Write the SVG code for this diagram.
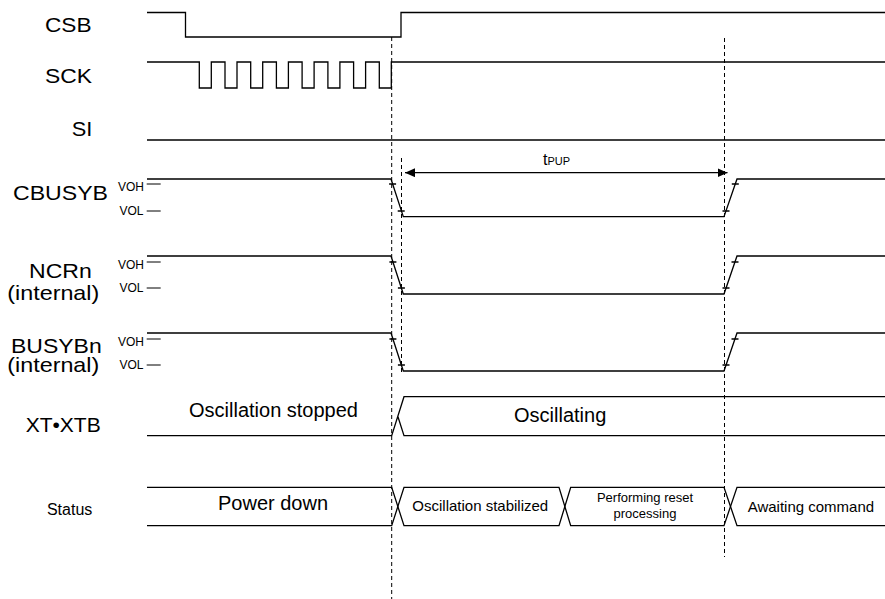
<svg xmlns="http://www.w3.org/2000/svg" width="885" height="599" viewBox="0 0 885 599">
<style>
.w{fill:none;stroke:#000;stroke-width:1.3}
.t{fill:none;stroke:#000;stroke-width:1}
.d{fill:none;stroke:#000;stroke-width:1;stroke-dasharray:4 3}
text{font-family:"Liberation Sans",Arial,"Noto Sans CJK JP",sans-serif;fill:#000}
.lb{font-size:21px}
.lv{font-size:12px;text-anchor:end}
.big{font-size:20px}
.md{font-size:15px}
.sm{font-size:13px;text-anchor:middle}
</style>
<defs>
<marker id="ah" viewBox="0 0 10 9" refX="10" refY="4.5" markerWidth="10" markerHeight="9" markerUnits="userSpaceOnUse" orient="auto-start-reverse"><path d="M0,0 L10,4.5 L0,9 z" fill="#000"/></marker>
</defs>
<rect width="885" height="599" fill="#fff"/>

<g id="csb">
<text class="lb" x="45" y="32" textLength="46.5" lengthAdjust="spacingAndGlyphs">CSB</text>
<path class="w" d="M147,12.5 H185.5 V37 H401 V12.5 H885"/>
</g>

<g id="sck">
<text class="lb" x="45" y="83" textLength="47" lengthAdjust="spacingAndGlyphs">SCK</text>
<path class="w" d="M147,62 H199.3 V88 H211.3 V62 H225 V88 H237 V62 H250.7 V88 H262.7 V62 H276.4 V88 H288.4 V62 H302.1 V88 H314.1 V62 H327.9 V88 H339.9 V62 H353.6 V88 H365.6 V62 H379.3 V88 H391.3 V62 H885"/>
</g>

<g id="si">
<text class="lb" x="71.7" y="135.5" textLength="20.6" lengthAdjust="spacingAndGlyphs">SI</text>
<path class="w" d="M147,140 H885"/>
</g>

<g id="cbusyb">
<text class="lb" x="13" y="200" textLength="95" lengthAdjust="spacingAndGlyphs">CBUSYB</text>
<text class="lv" x="144" y="190.5">VOH</text>
<text class="lv" x="143.5" y="215">VOL</text>
<path class="t" d="M146.7,184 H160.7 M146.7,211 H160.7"/>
<path class="w" d="M147,179 H391 L403.3,216.7 H724 L737,179 H885"/>
<path class="w" d="M389.1,184 h7 M397.7,211 h7 M722.5,211 h7 M731.8,184 h7"/>
</g>

<g id="ncrn">
<text class="lb" x="29" y="277.5" textLength="62.7" lengthAdjust="spacingAndGlyphs">NCRn</text>
<text class="lb" x="7.3" y="300" textLength="92" lengthAdjust="spacingAndGlyphs">(internal)</text>
<text class="lv" x="144" y="268.5">VOH</text>
<text class="lv" x="143.5" y="292">VOL</text>
<path class="t" d="M146.7,262 H160.7 M146.7,288 H160.7"/>
<path class="w" d="M147,256 H391 L403.3,294 H724 L737,256 H885"/>
<path class="w" d="M389.4,262 h7 M397.9,288 h7 M722.5,288 h7 M731.5,262 h7"/>
</g>

<g id="busybn">
<text class="lb" x="11" y="352.5" textLength="90.7" lengthAdjust="spacingAndGlyphs">BUSYBn</text>
<text class="lb" x="7.3" y="372" textLength="92" lengthAdjust="spacingAndGlyphs">(internal)</text>
<text class="lv" x="144" y="345.5">VOH</text>
<text class="lv" x="143.5" y="369">VOL</text>
<path class="t" d="M146.7,339 H160.7 M146.7,365 H160.7"/>
<path class="w" d="M147,333 H391 L403.3,371 H724 L737,333 H885"/>
<path class="w" d="M389.4,339 h7 M397.9,365 h7 M722.5,365 h7 M731.5,339 h7"/>
</g>

<g id="xt">
<text class="lb" x="100.7" y="431.5" text-anchor="end">XT•XTB</text>
<text class="big" x="189" y="416.5">Oscillation stopped</text>
<text class="big" x="514" y="421.5">Oscillating</text>
<path class="w" d="M147,435.7 H391.7 L404,396.7 H885 M397.8,416.2 L404,435.7 H885"/>
</g>

<g id="status">
<text x="92.3" y="515" font-size="16" text-anchor="end">Status</text>
<text class="big" x="218" y="510">Power down</text>
<text class="md" x="412.3" y="511">Oscillation stabilized</text>
<text class="sm" x="645" y="501.7">Performing reset</text>
<text class="sm" x="645" y="518">processing</text>
<text class="md" x="747.7" y="511.7">Awaiting command</text>
<path class="w" d="M147,487.3 H391.7 L404,525.7 H559 L570.7,487.3 H724 L737,525.7 H885"/>
<path class="w" d="M147,525.7 H391.7 L404,487.3 H559 L570.7,525.7 H724 L737,487.3 H885"/>
</g>

<g id="connectors">
<path class="d" d="M391.7,37 V599"/>
<path class="d" d="M401.5,158 V375"/>
<path class="d" d="M724.5,38 V557"/>
<line class="w" x1="405" y1="172.7" x2="727.5" y2="172.7" marker-start="url(#ah)" marker-end="url(#ah)"/>
<text x="543" y="165" font-size="16">t<tspan font-size="11">PUP</tspan></text>
</g>
</svg>
